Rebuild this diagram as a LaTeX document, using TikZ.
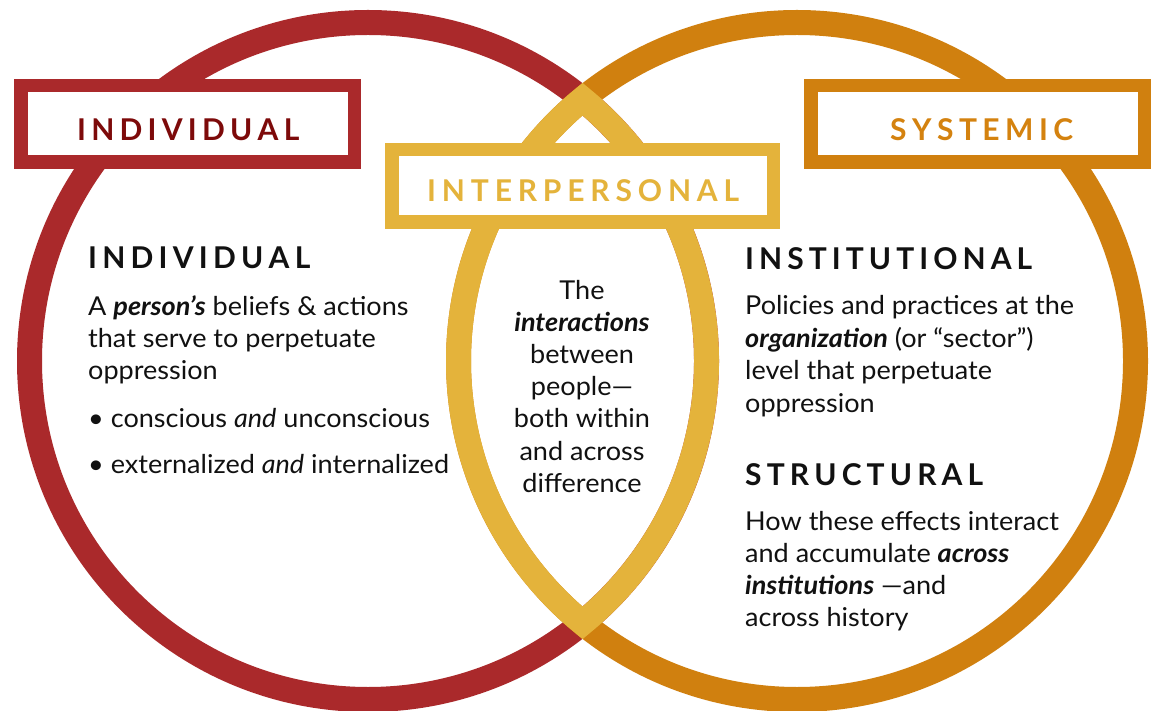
\documentclass[tikz,border=0pt]{standalone}
\usepackage{fontspec}
\setmainfont{Lato}
\newfontfamily\bodyfam[FakeStretch=1.04]{Lato}
\definecolor{ringred}{HTML}{AA292B}
\definecolor{ringorange}{HTML}{D0800F}
\definecolor{ringyellow}{HTML}{E4B33B}
\definecolor{labelred}{HTML}{7D0A0A}
\definecolor{labelorange}{HTML}{D4820F}
\definecolor{bodyblack}{HTML}{111111}
\def\spreadletters#1{\ifx#1\relax\else#1\hfill\expandafter\spreadletters\fi}
\newcommand\spreadto[2]{\makebox[#1][l]{\spreadletters#2\relax\unskip}}
\newcommand\bodysize{\bodyfam\fontsize{26}{32}\selectfont}
\newcommand\headsize{\fontsize{30}{36}\selectfont\bfseries}
\newcommand\bi[1]{\textbf{\textit{#1}}}
\tikzset{
  ring/.style={line width=25pt},
  labelbox/.style={line width=13.5pt, fill=white, inner sep=0pt, shape=rectangle},
  bodyline/.style={anchor=base west, inner sep=0pt, font=\bodysize, text=bodyblack},
  lensline/.style={anchor=base, inner sep=0pt, font=\bodysize, text=bodyblack},
  headline/.style={anchor=base west, inner sep=0pt, font=\headsize, text=bodyblack},
  labeltext/.style={anchor=base west, inner sep=0pt, font=\headsize}
}
\begin{document}
\begin{tikzpicture}[x=1pt,y=1pt]
\useasboundingbox (0,0) rectangle (1161,710);
\fill[white] (0,0) rectangle (1161,710);
% circles
\coordinate (c1) at (368,349);
\coordinate (c2) at (797,349);
\draw[ring, ringred] (c1) circle[radius=338.5];
\draw[ring, ringorange] (c2) circle[radius=338.5];
% lens
\coordinate (lensleft) at (458.5,349);
\draw[ring, ringyellow, line join=miter, miter limit=10] (lensleft)
  arc[start angle=180, end angle=230.68, radius=338.5]
  arc[start angle=-50.68, end angle=50.68, radius=338.5]
  arc[start angle=129.32, end angle=180, radius=338.5] -- cycle;
% label boxes
\node[labelbox, draw=ringred, minimum width=333.5pt, minimum height=76.5pt] (boxind) at (187.5,586) {};
\node[labelbox, draw=ringyellow, minimum width=381.5pt, minimum height=72.5pt] (boxint) at (582.5,524) {};
\node[labelbox, draw=ringorange, minimum width=333.5pt, minimum height=76.5pt] (boxsys) at (977.5,586) {};
\node[labeltext, text=labelred] (lblind) at (77,569) {\spreadto{222pt}{INDIVIDUAL}};
\node[labeltext, text=ringyellow] (lblint) at (427,508.3) {\spreadto{312pt}{INTERPERSONAL}};
\node[labeltext, text=labelorange] (lblsys) at (890,569) {\spreadto{183pt}{SYSTEMIC}};
% left column
\node[headline] (hind) at (88,441) {\spreadto{222pt}{INDIVIDUAL}};
\node[bodyline] (l1) at (88,394) {A \bi{person’s} beliefs \& actions};
\node[bodyline] (l2) at (88,362) {that serve to perpetuate};
\node[bodyline] (l3) at (88,330) {oppression};
\node[bodyline] (l4) at (88,283) {• conscious \textit{and} unconscious};
\node[bodyline] (l5) at (88,237) {• externalized \textit{and} internalized};
% lens text
\node[lensline] (m1) at (582,410) {The};
\node[lensline] (m2) at (582,378) {\bi{interactions}};
\node[lensline] (m3) at (582,346) {between};
\node[lensline] (m4) at (582,314) {people—};
\node[lensline] (m5) at (582,282) {both within};
\node[lensline] (m6) at (582,250) {and across};
\node[lensline] (m7) at (582,218) {difference};
% right column
\node[headline] (hinst) at (745,440) {\spreadto{287pt}{INSTITUTIONAL}};
\node[bodyline] (r1) at (745,395) {Policies and practices at the};
\node[bodyline] (r2) at (745,362) {\bi{organization} (or “sector”)};
\node[bodyline] (r3) at (745,330) {level that perpetuate};
\node[bodyline] (r4) at (745,298) {oppression};
\node[headline] (hstr) at (745,225) {\spreadto{238pt}{STRUCTURAL}};
\node[bodyline] (s1) at (745,180) {How these effects interact};
\node[bodyline] (s2) at (745,148) {and accumulate \bi{across}};
\node[bodyline] (s3) at (745,116) {\bi{institutions} —and};
\node[bodyline] (s4) at (745,84) {across history};
\end{tikzpicture}
\end{document}
